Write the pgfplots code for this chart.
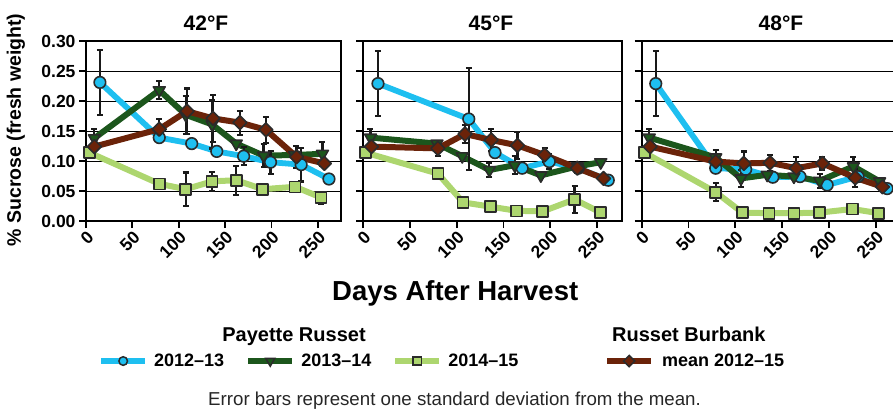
\documentclass[border=0pt]{standalone}
\usepackage{fontspec}
\setmainfont{Liberation Sans}
\usepackage{pgfplots}
\usepackage{pgfplotstable}
\pgfplotsset{compat=1.18}
\definecolor{cB}{HTML}{1EBFF0}
\definecolor{cG}{HTML}{1C561C}
\definecolor{cL}{HTML}{ADD66F}
\definecolor{cR}{HTML}{6B2309}
\definecolor{cM}{HTML}{2B2B2B}

% ---- 42F ----
\pgfplotstableread{
x y
15 0.231
79 0.139
114 0.129
141 0.116
170 0.108
199 0.098
232 0.094
262 0.070
}\aB
\pgfplotstableread{
x y
9 0.138
79 0.218
107.5 0.177
136 0.161
162 0.129
191.5 0.109
225 0.110
255 0.112
}\aG
\pgfplotstableread{
x y
3.6 0.114
79 0.062
107.5 0.053
136 0.066
162 0.068
190.5 0.053
225.5 0.057
253.6 0.039
}\aL
\pgfplotstableread{
x y
9 0.124
79 0.153
109 0.183
137 0.171
166 0.164
194 0.152
227 0.107
257 0.096
}\aR
\pgfplotstableread{
x y e
15 0.231 0.054
79 0.218 0.015
79 0.153 0.017
9 0.138 0.015
107.5 0.177 0.032
109 0.183 0.038
107.5 0.053 0.028
136 0.161 0.040
137 0.171 0.039
136 0.066 0.016
162 0.068 0.024
166 0.164 0.020
170 0.108 0.015
191.5 0.109 0.019
194 0.152 0.022
199 0.098 0.019
227 0.107 0.018
232 0.094 0.028
255 0.112 0.020
253.6 0.039 0.010
}\aE
% ---- 45F ----
\pgfplotstableread{
x y
16 0.229
113 0.170
141 0.114
170 0.088
199 0.099
230 0.088
262 0.068
}\bB
\pgfplotstableread{
x y
8 0.139
79 0.129
106 0.108
135 0.085
162 0.093
190 0.076
229 0.091
254 0.098
}\bG
\pgfplotstableread{
x y
2.5 0.114
80 0.079
107 0.031
136 0.024
164 0.017
192 0.016
226 0.036
254 0.014
}\bL
\pgfplotstableread{
x y
9 0.124
80 0.121
109 0.145
137 0.135
165 0.126
194 0.110
229 0.088
257 0.071
}\bR
\pgfplotstableread{
x y e
16 0.229 0.054
8 0.139 0.015
113 0.170 0.085
80 0.121 0.012
109 0.145 0.015
137 0.135 0.018
135 0.085 0.012
165 0.126 0.022
162 0.093 0.015
194 0.110 0.012
199 0.099 0.012
229 0.088 0.008
226 0.036 0.022
}\bE
% ---- 48F ----
\pgfplotstableread{
x y
15 0.229
79 0.088
111 0.086
140 0.073
169 0.074
198 0.060
231 0.074
262 0.054
}\cBt
\pgfplotstableread{
x y
8 0.139
79 0.106
106 0.071
134 0.077
162.5 0.074
190 0.067
226 0.091
254 0.066
}\cGt
\pgfplotstableread{
x y
3 0.114
79 0.048
107.5 0.014
136 0.013
162.5 0.013
190 0.014
225 0.020
253 0.013
}\cLt
\pgfplotstableread{
x y
9 0.124
79 0.099
109 0.096
137 0.097
165 0.088
193 0.096
228 0.072
257 0.057
}\cRt
\pgfplotstableread{
x y e
15 0.229 0.054
8 0.139 0.014
79 0.106 0.012
79 0.048 0.015
109 0.096 0.020
106 0.071 0.014
137 0.097 0.013
165 0.088 0.019
190 0.067 0.012
193 0.096 0.010
226 0.091 0.016
228 0.072 0.015
}\cEt

\pgfplotsset{
  panel/.style={
    scale only axis, height=180bp, ymin=0, ymax=0.30, xmin=0,
    ytick={0,0.05,0.1,0.15,0.2,0.25,0.3},
    xtick={0,50,100,150,200,250},
    clip=false, ymajorgrids,
    grid style={black, line width=0.9bp},
    axis line style={line width=2.2bp, black},
    every tick/.style={black, line width=1.8bp},
    major tick length=7bp, tick align=outside, tick pos=left,
    yticklabel style={font=\fontsize{17.5bp}{18bp}\selectfont\bfseries,
      /pgf/number format/.cd, fixed, fixed zerofill, precision=2, assume math mode=true},
    xticklabel style={font=\fontsize{17.5bp}{18bp}\selectfont\bfseries, rotate=45, anchor=north east, inner sep=1.5bp,
      /pgf/number format/assume math mode=true},
    legend image code/.code={\draw[mark repeat=2,mark phase=2,#1] plot coordinates {(0bp,0bp) (22bp,0bp) (44bp,0bp)};},
  },
  sB/.style={cB, line width=5.8bp, line join=round, mark=*, mark size=5.8bp, mark options={fill=cB, draw=cM, line width=1.6bp}},
  sG/.style={cG, line width=6bp, line join=round, mark=triangle*, mark size=6.8bp, mark options={rotate=180, fill=cG, draw=cM, line width=1.6bp}},
  sL/.style={cL, line width=6bp, line join=round, mark=square*, mark size=5.5bp, mark options={fill=cL, draw=cM, line width=1.6bp}},
  sR/.style={cR, line width=6bp, line join=round, mark=square*, mark size=4.9bp, mark options={rotate=45, fill=cR, draw=cM, line width=1.6bp}},
  sE/.style={forget plot, draw=none, mark=none,
    error bars/.cd, y dir=both, y explicit,
    error bar style={draw=black!90, line width=2.2bp, solid},
    error mark options={draw=black!90, rotate=90, mark size=3bp, line width=2.2bp}},
}

\begin{document}
\begin{tikzpicture}
\useasboundingbox (0,0) rectangle (893bp,-412bp);

% Panel 1
\begin{axis}[panel, at={(86bp,-221bp)}, anchor=south west, width=255bp, xmax=275,
  legend columns=3, legend cell align=left,
  legend style={at={(axis description cs:0.047,-0.778)}, anchor=west, draw=none, fill=none, inner sep=0pt,
    font=\fontsize{18bp}{18bp}\selectfont\bfseries,
    nodes={inner xsep=0pt, inner ysep=1bp},
    /tikz/every odd column/.style={column sep=6bp},
    /tikz/every even column/.style={column sep=21bp}}]
\addlegendimage{cB, line width=6bp, mark=*, mark size=4.3bp, mark options={fill=cB, draw=cM, line width=1.5bp}}
\addlegendentry{2012–13}
\addlegendimage{cG, line width=6bp, mark=triangle*, mark size=5.2bp, mark options={rotate=180, fill=cG, draw=cM, line width=1.5bp}}
\addlegendentry{2013–14}
\addlegendimage{cL, line width=6bp, mark=square*, mark size=4.2bp, mark options={fill=cL, draw=cM, line width=1.5bp}}
\addlegendentry{2014–15}
\addplot[sL, forget plot] table[x=x,y=y] {\aL};
\addplot[sB, forget plot] table[x=x,y=y] {\aB};
\addplot[sG, forget plot] table[x=x,y=y] {\aG};
\addplot[sR, forget plot] table[x=x,y=y] {\aR};
\addplot[sE] table[x=x,y=y,y error=e] {\aE};
\end{axis}

% Panel 2
\begin{axis}[panel, at={(363bp,-221bp)}, anchor=south west, width=259bp, xmax=276.7, yticklabels={}]
\addplot[sL, forget plot] table[x=x,y=y] {\bL};
\addplot[sB, forget plot] table[x=x,y=y] {\bB};
\addplot[sG, forget plot] table[x=x,y=y] {\bG};
\addplot[sR, forget plot] table[x=x,y=y] {\bR};
\addplot[sE] table[x=x,y=y,y error=e] {\bE};
\end{axis}

% Panel 3
\begin{axis}[panel, at={(641.7bp,-221bp)}, anchor=south west, width=259bp, xmax=276.5, yticklabels={},
  legend columns=1,
  legend style={at={(axis description cs:-0.1456,-0.778)}, anchor=west, draw=none, fill=none, inner sep=0pt,
    font=\fontsize{18bp}{18bp}\selectfont\bfseries,
    nodes={inner xsep=0pt, inner ysep=1bp},
    /tikz/every odd column/.style={column sep=8bp}}]
\addlegendimage{cR, line width=6bp, mark=square*, mark size=4bp, mark options={rotate=45, fill=cR, draw=cM, line width=1.5bp}}
\addlegendentry{mean 2012–15}
\addplot[sL, forget plot] table[x=x,y=y] {\cLt};
\addplot[sB, forget plot] table[x=x,y=y] {\cBt};
\addplot[sG, forget plot] table[x=x,y=y] {\cGt};
\addplot[sR, forget plot] table[x=x,y=y] {\cRt};
\addplot[sE] table[x=x,y=y,y error=e] {\cEt};
\end{axis}

% Titles and labels
\node[anchor=base, font=\fontsize{21bp}{21bp}\selectfont\bfseries, inner sep=0pt] at (206bp,-30bp) {42°F};
\node[anchor=base, font=\fontsize{21bp}{21bp}\selectfont\bfseries, inner sep=0pt] at (491bp,-30bp) {45°F};
\node[anchor=base, font=\fontsize{21bp}{21bp}\selectfont\bfseries, inner sep=0pt] at (781bp,-30bp) {48°F};
\node[rotate=90, font=\fontsize{19.5bp}{20bp}\selectfont\bfseries, inner sep=0pt] at (16bp,-130bp) {\% Sucrose (fresh weight)};
\node[anchor=base west, font=\fontsize{27.5bp}{28bp}\selectfont\bfseries, inner sep=0pt] at (332bp,-300bp) {Days After Harvest};
\node[anchor=base, font=\fontsize{20bp}{20bp}\selectfont\bfseries, inner sep=0pt] at (294bp,-341bp) {Payette Russet};
\node[anchor=base west, font=\fontsize{20bp}{20bp}\selectfont\bfseries, inner sep=0pt] at (612bp,-341bp) {Russet Burbank};
\node[anchor=base west, font=\fontsize{18.7bp}{19bp}\selectfont, inner sep=0pt, text=black!85] at (208bp,-405.5bp) {Error bars represent one standard deviation from the mean.};
\end{tikzpicture}
\end{document}
